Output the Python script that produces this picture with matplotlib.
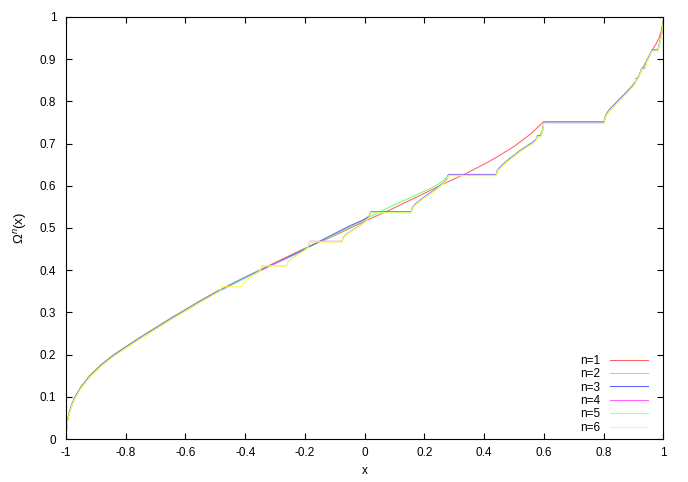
import matplotlib
matplotlib.use("Agg")
import matplotlib.pyplot as plt
from matplotlib.transforms import offset_copy

plt.rcParams['font.family'] = ['Liberation Sans', 'DejaVu Sans']
plt.rcParams['mathtext.fontset'] = 'custom'
plt.rcParams['mathtext.rm'] = 'Liberation Sans'
plt.rcParams['mathtext.it'] = 'Liberation Sans:italic'

# shared left part (same for every n)
base_left = [(-1.0, 0.0), (-0.999, 0.02), (-0.995, 0.045), (-0.99, 0.062), (-0.98, 0.084),
             (-0.97, 0.100), (-0.95, 0.124), (-0.92, 0.151), (-0.88, 0.178), (-0.84, 0.200),
             (-0.8, 0.219), (-0.75, 0.242), (-0.7, 0.264), (-0.65, 0.286), (-0.6, 0.307),
             (-0.55, 0.328), (-0.5, 0.348)]

# right tails: plateau 0.6..0.8 then the rise to 1
tail1 = [(0.6, 0.752), (0.802, 0.752), (0.806, 0.764), (0.811, 0.772), (0.82, 0.781),
         (0.834, 0.791), (0.85, 0.803), (0.867, 0.815), (0.885, 0.828), (0.9, 0.840),
         (0.915, 0.855), (0.928, 0.875), (0.945, 0.897), (0.962, 0.920), (0.975, 0.935),
         (0.985, 0.948), (0.993, 0.965), (1.0, 0.99)]
tail2 = [(0.6, 0.752), (0.802, 0.752), (0.806, 0.764), (0.811, 0.772), (0.82, 0.781),
         (0.834, 0.791), (0.85, 0.803), (0.867, 0.815), (0.885, 0.828), (0.9, 0.840),
         (0.915, 0.855), (0.928, 0.875), (0.945, 0.897), (0.955, 0.911), (0.962, 0.923),
         (0.982, 0.923), (0.988, 0.940), (0.995, 0.962), (1.0, 0.99)]
tail3 = [(0.6, 0.752), (0.802, 0.752), (0.806, 0.764), (0.811, 0.772), (0.82, 0.781),
         (0.834, 0.791), (0.85, 0.803), (0.867, 0.815), (0.885, 0.828), (0.9, 0.840),
         (0.906, 0.846), (0.909, 0.856), (0.915, 0.856), (0.922, 0.868), (0.928, 0.880),
         (0.938, 0.880), (0.945, 0.897), (0.955, 0.911), (0.962, 0.923),
         (0.982, 0.923), (0.988, 0.940), (0.995, 0.962), (1.0, 0.99)]

# middle sections
mid1 = [(-0.4, 0.384), (-0.3, 0.418), (-0.2, 0.452), (-0.116, 0.477), (0.0, 0.516),
        (0.085, 0.543), (0.2, 0.582), (0.275, 0.608), (0.345, 0.631), (0.4, 0.651),
        (0.443, 0.668), (0.5, 0.693), (0.555, 0.722), (0.6, 0.752)]

p2_and_up = [(0.281, 0.628), (0.441, 0.628), (0.444, 0.637), (0.45, 0.643), (0.462, 0.651),
             (0.476, 0.660), (0.5, 0.673), (0.521, 0.685), (0.545, 0.696), (0.565, 0.706),
             (0.58, 0.715), (0.59, 0.724), (0.596, 0.735)]
p2_and_up_steps = [(0.281, 0.628), (0.441, 0.628), (0.444, 0.637), (0.45, 0.643), (0.462, 0.651),
                   (0.476, 0.660), (0.5, 0.673), (0.521, 0.685), (0.545, 0.696), (0.565, 0.705),
                   (0.575, 0.712), (0.578, 0.720), (0.59, 0.720), (0.596, 0.733)]

mid2 = [(-0.4, 0.384), (-0.3, 0.418), (-0.2, 0.452), (-0.116, 0.479), (0.0, 0.521),
        (0.085, 0.551), (0.15, 0.572), (0.219, 0.594), (0.245, 0.604), (0.264, 0.614),
        (0.275, 0.621)]

p3_to_p2 = [(0.021, 0.540), (0.156, 0.540), (0.159, 0.549), (0.169, 0.558), (0.197, 0.574),
            (0.231, 0.590), (0.264, 0.609), (0.275, 0.617)]
mid3 = [(-0.4, 0.384), (-0.3, 0.418), (-0.2, 0.452), (-0.116, 0.483), (-0.049, 0.507),
        (-0.004, 0.521), (0.01, 0.527), (0.016, 0.531)]

p4_to_p3 = [(-0.183, 0.471), (-0.076, 0.471), (-0.072, 0.480), (-0.06, 0.489), (-0.037, 0.499),
            (-0.01, 0.512), (0.005, 0.520), (0.016, 0.530)]
mid4 = [(-0.4, 0.384), (-0.3, 0.418), (-0.25, 0.434), (-0.22, 0.444), (-0.2, 0.452),
        (-0.19, 0.458)]

p5_to_p4 = [(-0.344, 0.414), (-0.261, 0.414), (-0.257, 0.423), (-0.245, 0.431), (-0.225, 0.440),
            (-0.2, 0.451), (-0.19, 0.458)]
mid5 = [(-0.4, 0.384), (-0.37, 0.394), (-0.355, 0.400), (-0.348, 0.405)]

p6_to_p5 = [(-0.478, 0.365), (-0.411, 0.365), (-0.407, 0.373), (-0.397, 0.380), (-0.38, 0.389),
            (-0.36, 0.397), (-0.35, 0.402)]
mid6 = [(-0.488, 0.353), (-0.482, 0.357)]

curves = {
    'n=1': base_left + mid1 + tail1,
    'n=2': base_left + mid2 + p2_and_up + tail2,
    'n=3': base_left + mid3 + p3_to_p2 + p2_and_up_steps + tail3,
    'n=4': base_left + mid4 + p4_to_p3 + p3_to_p2 + p2_and_up_steps + tail3,
    'n=5': base_left + mid5 + p5_to_p4 + p4_to_p3 + p3_to_p2 + p2_and_up_steps + tail3,
    'n=6': base_left + mid6 + p6_to_p5 + p5_to_p4 + p4_to_p3 + p3_to_p2 + p2_and_up_steps + tail3,
}
colors = ['#ff5050', '#60ff60', '#5050ff', '#ff50ff', '#70ffff', '#ffff30']

x_ticks = [-1, -0.8, -0.6, -0.4, -0.2, 0, 0.2, 0.4, 0.6, 0.8, 1]
y_ticks = [0, 0.1, 0.2, 0.3, 0.4, 0.5, 0.6, 0.7, 0.8, 0.9, 1]

fig = plt.figure(figsize=(6.88, 4.82), dpi=100)
ax = fig.add_axes([0.096, 0.089, 0.868, 0.876])

# later curves sit a hair lower on screen, like the reference rendering
for i, ((name, pts), c) in enumerate(zip(curves.items(), colors)):
    xs = [p[0] for p in pts]
    ys = [p[1] for p in pts]
    tr = offset_copy(ax.transData, fig=fig, x=0, y=-0.35 * i, units='dots')
    ax.plot(xs, ys, color=c, lw=0.75, alpha=0.9, label=name, transform=tr)

ax.set_xlim(-1, 1)
ax.set_ylim(0, 1)
ax.set_xticks(x_ticks)
ax.set_xticklabels(['%g' % t for t in x_ticks])
ax.set_yticks(y_ticks)
ax.set_yticklabels(['%g' % t for t in y_ticks])
ax.tick_params(direction='in', length=4.3, width=0.8, top=True, right=True, labelsize=8.5)
ax.tick_params(axis='x', pad=6)
ax.tick_params(axis='y', pad=7)
for s in ax.spines.values():
    s.set_linewidth(0.8)

ax.set_xlabel('x', fontsize=8.5, labelpad=4)
ax.set_ylabel(r'$\mathrm{\Omega}^{n}\mathrm{(x)}$', fontsize=9.5, labelpad=8)

ax.legend(loc='lower right', bbox_to_anchor=(0.99, -0.01), frameon=False, markerfirst=False,
          fontsize=8.5, handlelength=3.2, handletextpad=0.8, labelspacing=0.12,
          borderpad=0.3)

fig.savefig('out.png', dpi=100)
